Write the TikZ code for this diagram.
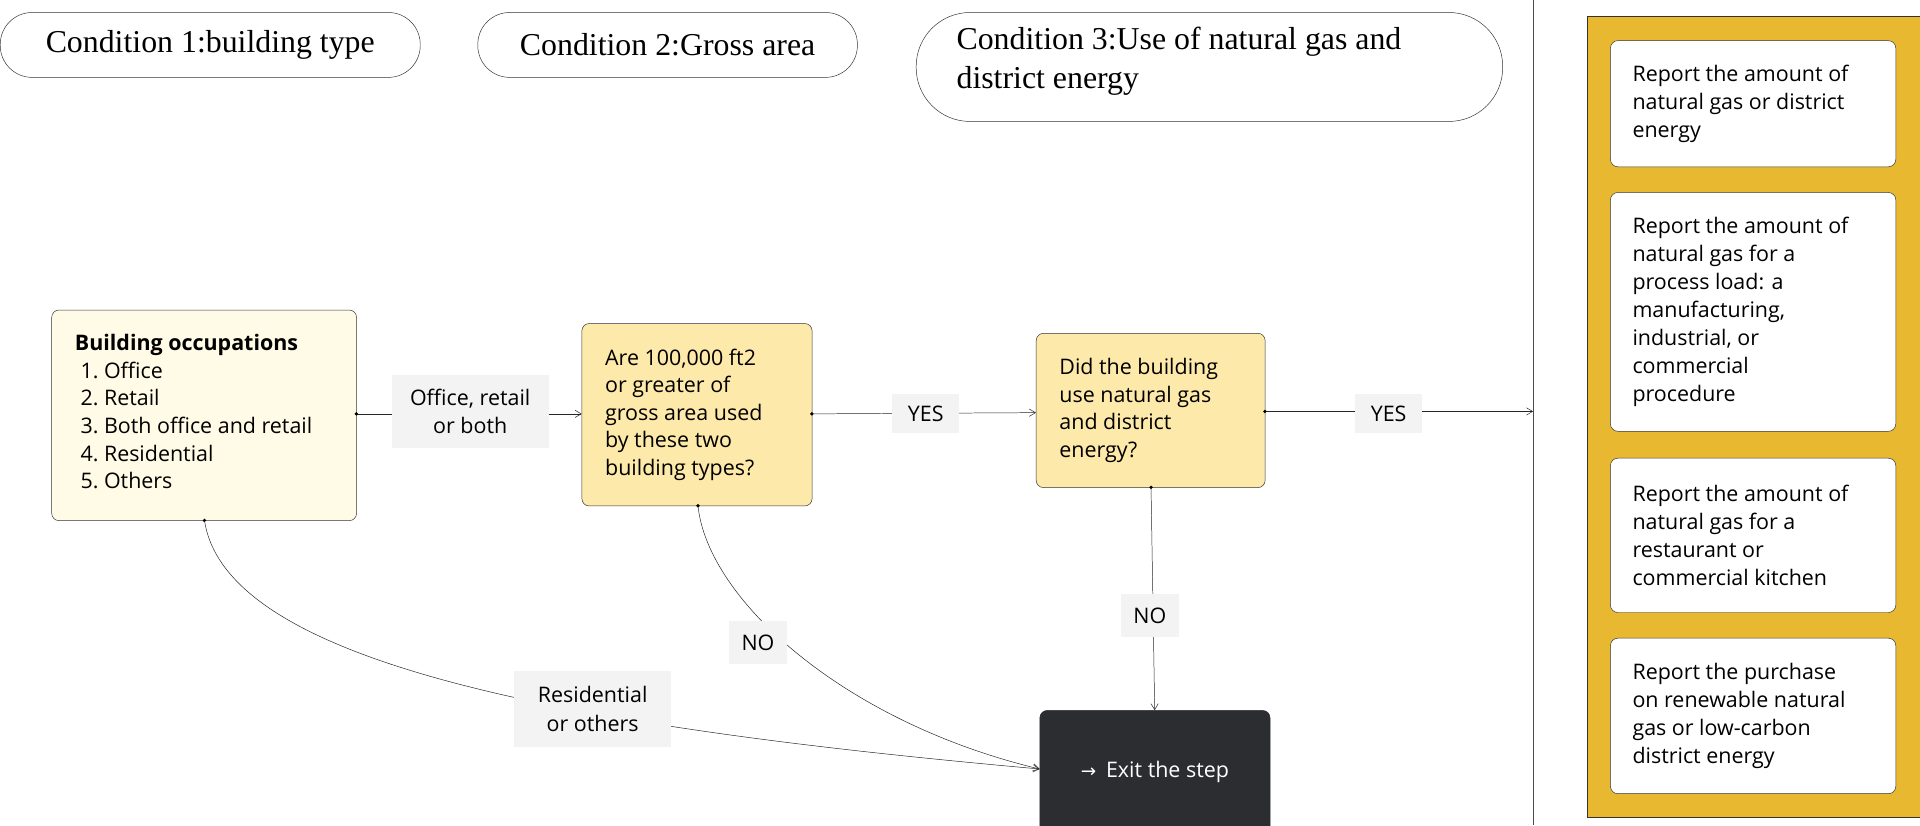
\documentclass[tikz,border=0pt]{standalone}
\usepackage{fontspec}
\setmainfont{Open Sans}
\newfontfamily\serifx{Liberation Serif}
\usetikzlibrary{arrows.meta}
\definecolor{panel}{HTML}{E8B830}
\definecolor{occ}{HTML}{FFFBE6}
\definecolor{q}{HTML}{FDE9A9}
\definecolor{lab}{HTML}{F3F3F3}
\definecolor{dark}{HTML}{2B2D31}
\begin{document}
\begin{tikzpicture}[x=1pt,y=-1pt,
  pill/.style={draw=black!80,rounded corners=26pt,font=\serifx\fontsize{26}{32}\selectfont,align=left,inner sep=0pt,anchor=north west},
  box/.style={draw=black!80,rounded corners=6pt,anchor=north west,font=\fontsize{17.5}{23}\selectfont,align=left,inner sep=0pt},
  lbl/.style={fill=lab,font=\fontsize{17.5}{23}\selectfont,align=center,inner sep=0pt},
  arr/.style={-{Straight Barb[length=5pt,width=6pt]},black!85,thin},
  dot/.style={circle,fill=black,inner sep=0pt,minimum size=3pt}]
\useasboundingbox (0,0) rectangle (1568,674);
% condition pills
\node[pill,minimum width=343pt,minimum height=53pt] (c1) at (0,10) {};
\node at (c1.center) {\serifx\fontsize{26}{32}\selectfont Condition 1:building type};
\node[pill,minimum width=310pt,minimum height=53pt] (c2) at (390,10) {};
\node at (c2.center) {\serifx\fontsize{26}{32}\selectfont Condition 2:Gross area};
\node[pill,rounded corners=44pt,minimum width=479pt,minimum height=89pt] (c3) at (748,10) {};
\node[anchor=north west,align=left,font=\serifx\fontsize{26}{32}\selectfont,inner sep=0pt] (c3t) at (781,22) {Condition 3:Use of natural gas and\\district energy};
% divider
\coordinate (dtop) at (1252,0); \coordinate (dbot) at (1252,674);
\draw[black!70] (dtop) -- (dbot);
% panel
\node[draw=black!80,fill=panel,anchor=north west,minimum width=272pt,minimum height=654pt,inner sep=0pt] (pan) at (1296,13) {};
\foreach \n/\y/\h/\t in {p1/33/103/{Report the amount of\\natural gas or district\\energy},
 p2/157/195/{Report the amount of\\natural gas for a\\process load: a\\manufacturing,\\industrial, or\\commercial\\procedure},
 p3/374/126/{Report the amount of\\natural gas for a\\restaurant or\\commercial kitchen},
 p4/521/127/{Report the purchase\\on renewable natural\\gas or low-carbon\\district energy}}{
 \node[box,fill=white,minimum width=233pt,minimum height=\h pt] (\n) at (1315,\y) {};
 \node[anchor=west,align=left,font=\fontsize{17.5}{23}\selectfont,inner sep=0pt] at ([xshift=18pt]\n.west) {\t};
}
% main boxes
\node[box,fill=occ,minimum width=249pt,minimum height=172pt] (occb) at (42,253) {};
\node[anchor=north west,align=left,font=\fontsize{17.5}{22.5}\selectfont,inner sep=0pt] at (61,273) {\textbf{Building occupations}\\\ 1.\ Office\\\ 2.\ Retail\\\ 3.\ Both office and retail\\\ 4.\ Residential\\\ 5.\ Others};
\node[box,fill=q,minimum width=188pt,minimum height=149pt] (qa) at (475,264) {};
\node[anchor=west,align=left,font=\fontsize{17.5}{22.5}\selectfont,inner sep=0pt] at ([xshift=19pt]qa.west) {Are 100,000 ft2\\or greater of\\gross area used\\by these two\\building types?};
\node[box,fill=q,minimum width=187pt,minimum height=126pt] (qb) at (846,272) {};
\node[anchor=west,align=left,font=\fontsize{17.5}{22.5}\selectfont,inner sep=0pt] at ([xshift=19pt]qb.west) {Did the building\\use natural gas\\and district\\energy?};
\node[box,fill=dark,draw=dark,minimum width=188pt,minimum height=100pt] (ex) at (849,580) {};
\node[text=white,font=\fontsize{17.5}{22}\selectfont] at (ex.center) {\fontspec{DejaVu Sans}\fontsize{15}{18}\selectfont\symbol{"2192}\hspace{8pt}\fontspec{Open Sans}\fontsize{17.5}{22}\selectfont Exit the step};
% connectors
\coordinate (o1) at (291,338); \coordinate (q1) at (475,338);
\coordinate (o2) at (663,338); \coordinate (q2) at (846,337);
\coordinate (o3) at (1033,336); \coordinate (q3) at (1252,336);
\coordinate (o4) at (940,398); \coordinate (q4) at (943,580);
\coordinate (o5) at (570,413); \coordinate (o6) at (167,425); \coordinate (ew) at (849,628);
\draw[arr] (o1) -- (q1);
\draw[arr] (o2) -- (q2);
\draw[arr] (o3) -- (q3);
\draw[arr] (o4) -- (q4);
\draw[arr] (o5) .. controls (578,490) and (690,590) .. (ew);
\draw[arr] (o6) .. controls (185,545) and (480,595) .. (ew);
\foreach \c in {o1,o2,o3,o4,o5,o6} \node[dot] at (\c) {};
% labels
\node[lbl,minimum width=128pt,minimum height=60pt] (l1) at (384,336) {Office, retail\\or both};
\node[lbl,minimum width=55pt,minimum height=32pt] (l2) at (756,338) {YES};
\node[lbl,minimum width=55pt,minimum height=32pt] (l3) at (1134,338) {YES};
\node[lbl,minimum width=47pt,minimum height=35pt] (l4) at (939,503) {NO};
\node[lbl,minimum width=47pt,minimum height=35pt] (l5) at (619,525) {NO};
\node[lbl,minimum width=128pt,minimum height=62pt] (l6) at (484,579) {Residential\\or others};
\end{tikzpicture}
\end{document}
